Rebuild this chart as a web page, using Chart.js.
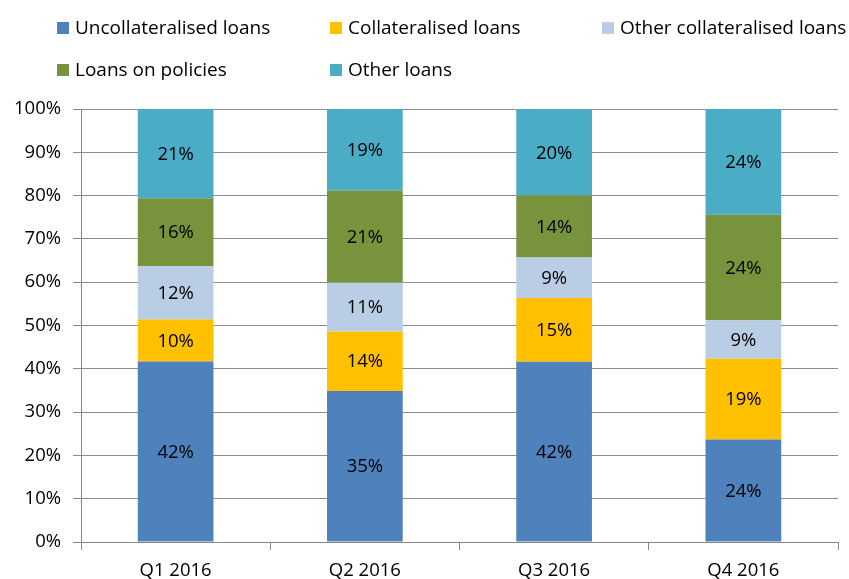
<!DOCTYPE html>
<html><head><meta charset="utf-8">
<script src="https://cdn.jsdelivr.net/npm/chart.js@4"></script>
<style>html,body{margin:0;padding:0;background:#fff;}canvas{display:block;}</style>
</head><body>
<canvas id="c" width="849" height="579"></canvas>
<script>
const categories = ['Q1 2016', 'Q2 2016', 'Q3 2016', 'Q4 2016'];
const seriesNames = ['Uncollateralised loans', 'Collateralised loans', 'Other collateralised loans', 'Loans on policies', 'Other loans'];
const uncollateralised = [41.7, 34.9, 41.6, 23.7];
const collateralised = [9.7, 13.7, 14.75, 18.6];
const otherCollateralised = [12.3, 11.3, 9.35, 8.9];
const loansOnPolicies = [15.7, 21.3, 14.3, 24.4];
const otherLoans = [20.6, 18.8, 20.0, 24.4];
const seriesColors = ['#4F81BD', '#FFC000', '#B9CDE5', '#77933C', '#4BACC6'];

const FONT = '"Open Sans", sans-serif';
const seriesValues = [uncollateralised, collateralised, otherCollateralised, loansOnPolicies, otherLoans];

const datasets = seriesNames.map((name, i) => ({
  label: name,
  data: seriesValues[i],
  backgroundColor: seriesColors[i],
  borderWidth: 0,
  barPercentage: 0.4,
  categoryPercentage: 1.0
}));

const labelPlugin = {
  id: 'segLabels',
  afterDatasetsDraw(chart) {
    const ctx = chart.ctx;
    ctx.save();
    ctx.font = '18.5px ' + FONT;
    ctx.fillStyle = '#000';
    ctx.textAlign = 'center';
    ctx.textBaseline = 'middle';
    chart.data.datasets.forEach((ds, di) => {
      const meta = chart.getDatasetMeta(di);
      meta.data.forEach((el, i) => {
        const v = ds.data[i];
        const cy = (el.y + el.base) / 2;
        ctx.fillText(Math.round(v) + '%', el.x, cy + 1);
      });
    });
    ctx.restore();
  }
};

const legendPlugin = {
  id: 'gridLegend',
  afterDraw(chart) {
    const ctx = chart.ctx;
    const slots = [[57, 28], [330, 28], [602, 28], [57, 70], [330, 70]];
    ctx.save();
    ctx.font = '19px ' + FONT;
    ctx.textAlign = 'left';
    ctx.textBaseline = 'middle';
    chart.data.datasets.forEach((ds, i) => {
      const [x, y] = slots[i];
      ctx.fillStyle = ds.backgroundColor;
      ctx.fillRect(x, y - 6, 12, 12);
      ctx.fillStyle = '#000';
      ctx.fillText(ds.label, x + 18, y + 1);
    });
    ctx.restore();
  }
};

new Chart(document.getElementById('c'), {
  type: 'bar',
  data: { labels: categories, datasets },
  options: {
    responsive: false,
    devicePixelRatio: 1,
    animation: false,
    layout: { padding: { top: 109, left: 0, right: 11, bottom: 0 } },
    plugins: { legend: { display: false }, tooltip: { enabled: false } },
    scales: {
      x: {
        stacked: true,
        afterFit(scale) { scale.height = 37; },
        grid: { display: true, drawOnChartArea: false, drawTicks: true, tickLength: 8, color: '#868686', offset: true },
        border: { display: true, color: '#868686', width: 1 },
        ticks: { color: '#000', padding: 10, font: { family: FONT, size: 18.5 } }
      },
      y: {
        stacked: true,
        min: 0, max: 100,
        afterFit(scale) { scale.width = 81; },
        grid: { color: '#8c8c8c', tickLength: 8, drawTicks: true },
        border: { display: true, color: '#868686', width: 1 },
        ticks: { stepSize: 10, color: '#000', padding: 12, font: { family: FONT, size: 18.5 }, callback: v => v + '%' }
      }
    }
  },
  plugins: [labelPlugin, legendPlugin]
});
</script>
</body></html>
